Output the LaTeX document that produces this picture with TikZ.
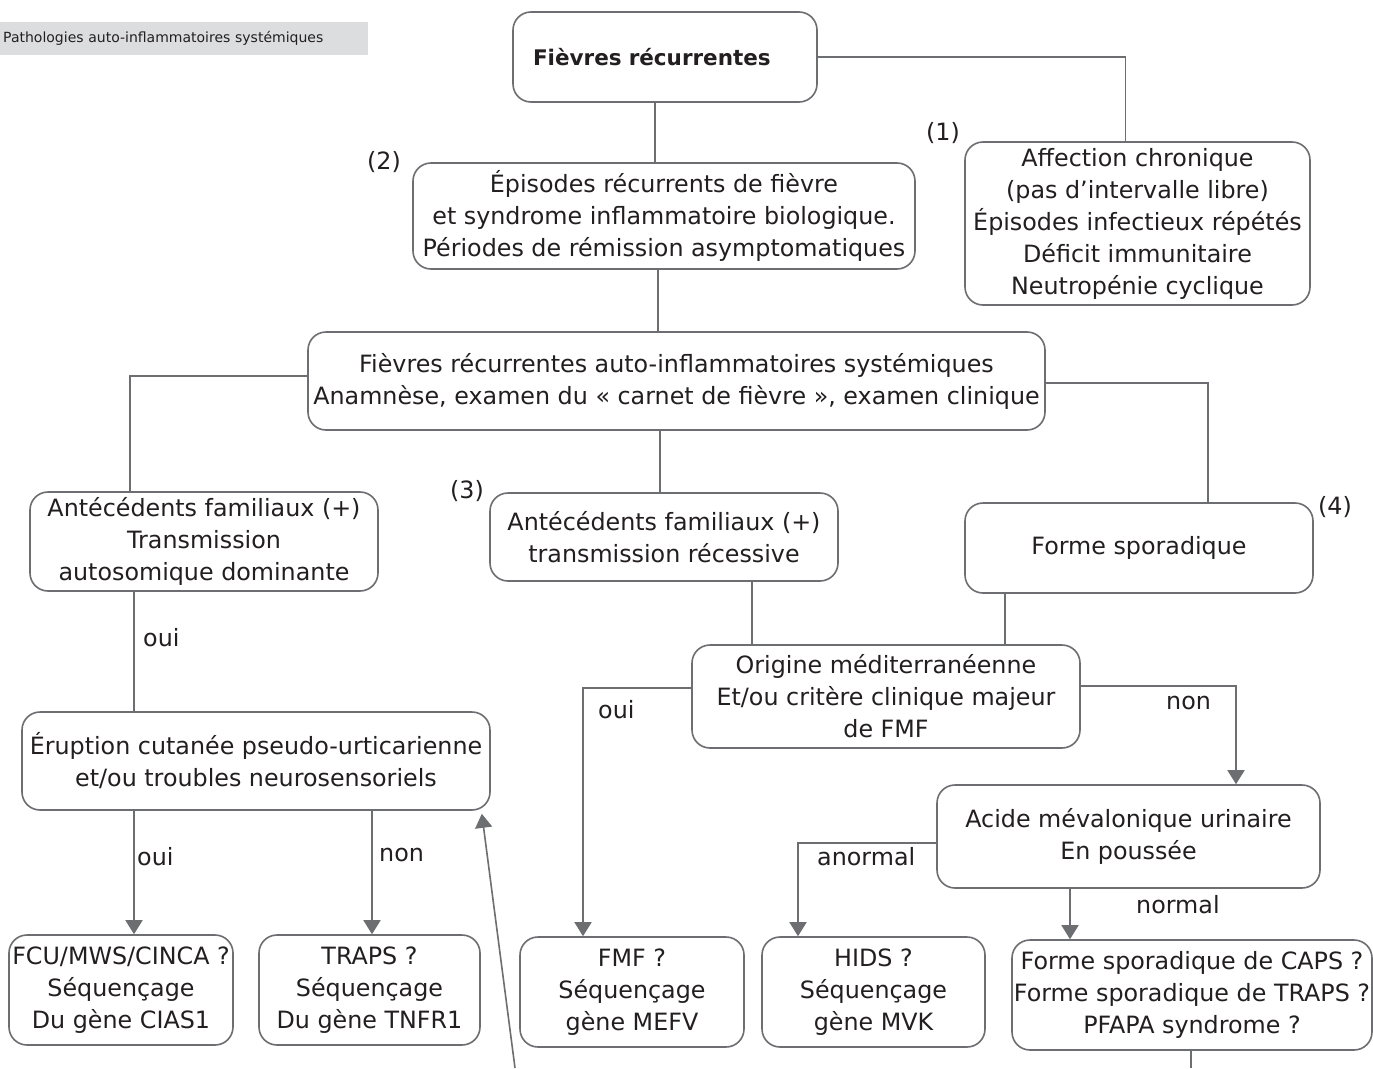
\documentclass[tikz,border=0pt]{standalone}
\usepackage{fontspec}
\setmainfont{DejaVu Sans}
\usetikzlibrary{arrows.meta}
\definecolor{linegray}{HTML}{6D6E71}
\definecolor{inkdark}{HTML}{231F20}
\definecolor{bandgray}{HTML}{DCDDDE}

\begin{document}
\begin{tikzpicture}[x=1pt,y=-1pt,
  box/.style={draw=linegray, line width=1.6pt, rounded corners=18pt, align=center,
    inner sep=0pt, text=inkdark, font=\fontsize{23.8}{32}\selectfont},
  ln/.style={linegray, line width=1.6pt},
  arr/.style={ln, -{Triangle[width=17pt,length=14pt]}},
  lbl/.style={anchor=west, inner sep=0pt, text=inkdark, font=\fontsize{23.8}{30}\selectfont}]
  \useasboundingbox (0,0) rectangle (1373,1068);
  \fill[white] (0,0) rectangle (1373,1068);

  % bandeau
  \node[fill=bandgray, anchor=north west, minimum height=33pt, inner xsep=3pt, inner ysep=0pt,
    text width=362pt, align=left, text=inkdark, font=\fontsize{14}{16}\selectfont]
    (band) at (0,22) {Pathologies auto-inflammatoires systémiques};

  % boites
  \node[box, minimum width=304pt, minimum height=90pt, text width=264pt, align=left,
    font=\fontsize{21.5}{32}\selectfont\bfseries] (top) at (665,57) {\mbox{Fièvres récurrentes}};
  \node[box, minimum width=502pt, minimum height=106pt] (epis) at (664,216)
    {Épisodes récurrents de fièvre\\ et syndrome inflammatoire biologique.\\Périodes de rémission asymptomatiques};
  \node[box, minimum width=345pt, minimum height=163pt] (affect) at (1137.5,223.5)
    {Affection chronique\\(pas d’intervalle libre)\\Épisodes infectieux répétés\\Déficit immunitaire\\Neutropénie cyclique};
  \node[box, minimum width=737pt, minimum height=98pt] (fauto) at (676.5,381)
    {Fièvres récurrentes auto-inflammatoires systémiques\\Anamnèse, examen du « carnet de fièvre », examen clinique};
  \node[box, minimum width=348pt, minimum height=99pt] (antA) at (204,541.5)
    {Antécédents familiaux (+)\\Transmission\\autosomique dominante};
  \node[box, minimum width=348pt, minimum height=88pt] (antB) at (664,537)
    {Antécédents familiaux (+)\\transmission récessive};
  \node[box, minimum width=348pt, minimum height=90pt] (spor) at (1139,548) {Forme sporadique};
  \node[box, minimum width=468pt, minimum height=98pt] (erupt) at (256,761)
    {Éruption cutanée pseudo-urticarienne\\et/ou troubles neurosensoriels};
  \node[box, minimum width=388pt, minimum height=103pt] (orig) at (886,696.5)
    {Origine méditerranéenne\\Et/ou critère clinique majeur\\de FMF};
  \node[box, minimum width=383pt, minimum height=103pt] (acide) at (1128.5,836.5)
    {Acide mévalonique urinaire\\En poussée};
  \node[box, minimum width=224pt, minimum height=110pt] (fcu) at (121,990)
    {FCU/MWS/CINCA ?\\Séquençage\\Du gène CIAS1};
  \node[box, minimum width=221pt, minimum height=110pt] (traps) at (369.5,990)
    {TRAPS ?\\Séquençage\\Du gène TNFR1};
  \node[box, minimum width=224pt, minimum height=110pt] (fmf) at (632,992)
    {FMF ?\\Séquençage\\gène MEFV};
  \node[box, minimum width=223pt, minimum height=110pt] (hids) at (873.5,992)
    {HIDS ?\\Séquençage\\gène MVK};
  \node[box, minimum width=360pt, minimum height=110pt] (caps) at (1192,995)
    {Forme sporadique de CAPS ?\\Forme sporadique de TRAPS ?\\PFAPA syndrome ?};

  % renvois
  \node[lbl] (n1) at (926,133) {(1)};
  \node[lbl] (n2) at (367,162) {(2)};
  \node[lbl] (n3) at (450,491) {(3)};
  \node[lbl] (n4) at (1318,507) {(4)};

  % liaisons
  \draw[ln] (top.east) -| ([xshift=-12pt]affect.north);
  \draw[ln] ([xshift=-10pt]top.south) -- ([xshift=-10pt]top.south |- epis.north);
  \draw[ln] ([xshift=-6pt]epis.south) -- ([xshift=-6pt]epis.south |- fauto.north);
  \draw[ln] ([yshift=5pt]fauto.west) -| ([xshift=-74pt]antA.north);
  \draw[ln] ([xshift=-16.5pt]fauto.south) -- ([xshift=-16.5pt]fauto.south |- antB.north);
  \draw[ln] ([yshift=-2pt]fauto.east) -| ([xshift=69pt]spor.north);
  \draw[ln] ([xshift=-70pt]antA.south) -- ([xshift=-70pt]antA.south |- erupt.north);
  \draw[ln] ([xshift=88pt]antB.south) -- ([xshift=88pt]antB.south |- orig.north);
  \draw[ln] ([xshift=-134pt]spor.south) -- ([xshift=-134pt]spor.south |- orig.north);
  \draw[arr] ([yshift=8.5pt]orig.west) -| ([xshift=-49pt]fmf.north);
  \draw[arr] ([yshift=10.5pt]orig.east) -| ([xshift=107.5pt]acide.north);
  \draw[arr] ([yshift=-6.5pt]acide.west) -| ([xshift=-75.5pt]hids.north);
  \draw[arr] ([xshift=-58.5pt]acide.south) -- ([xshift=-58.5pt]acide.south |- caps.north);
  \draw[arr] ([xshift=-122pt]erupt.south) -- ([xshift=-122pt]erupt.south |- fcu.north);
  \draw[arr] ([xshift=116pt]erupt.south) -- ([xshift=116pt]erupt.south |- traps.north);
  \coordinate (capsout) at (1191,1068);
  \draw[ln] ([xshift=-1pt]caps.south) -- (capsout);
  \coordinate (loopin) at (515,1068);
  \draw[arr] (loopin) -- ([xshift=-9pt,yshift=-3pt]erupt.south east);

  % etiquettes
  \node[lbl] (ouiA) at (143,638) {oui};
  \node[lbl] (ouiB) at (598,710) {oui};
  \node[lbl] (nonA) at (1166,703) {non};
  \node[lbl] (anorm) at (817,857) {anormal};
  \node[lbl] (norm) at (1136,905) {normal};
  \node[lbl] (ouiC) at (137,857) {oui};
  \node[lbl] (nonB) at (379,855) {non};
\end{tikzpicture}
\end{document}
